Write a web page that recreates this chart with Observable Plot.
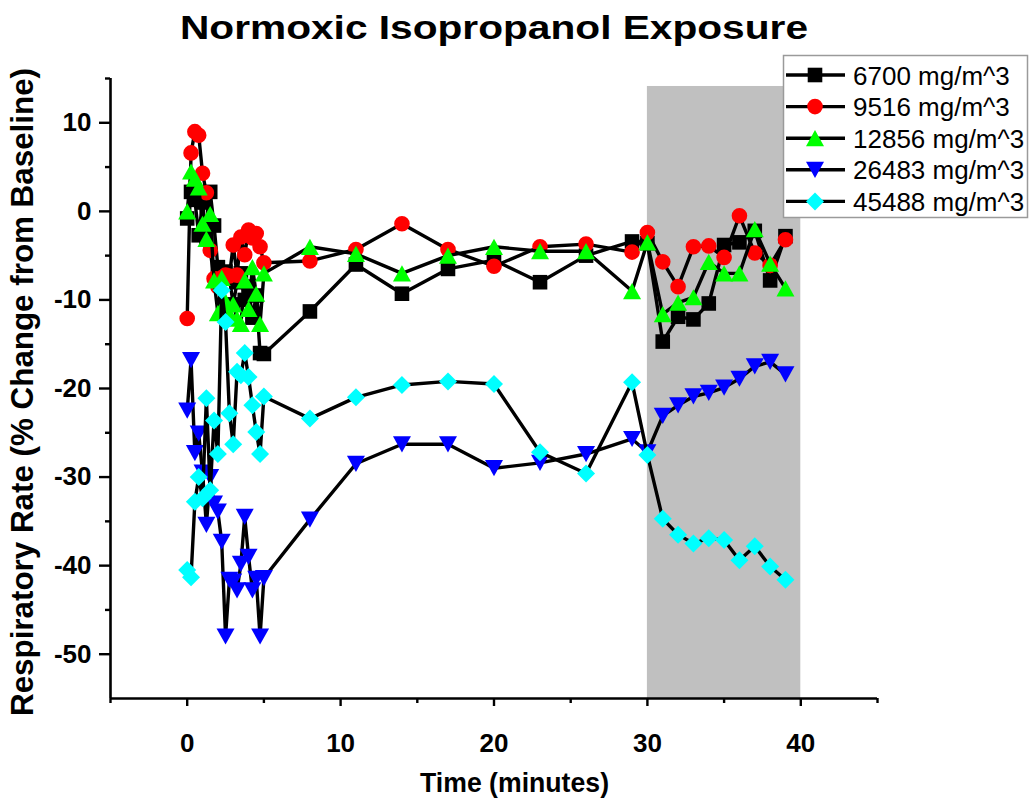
<!DOCTYPE html>
<html>
<head>
<meta charset="utf-8">
<script src="https://cdn.jsdelivr.net/npm/d3@7"></script>
<script src="https://cdn.jsdelivr.net/npm/@observablehq/plot@0.6"></script>
<style>
  html, body { margin: 0; padding: 0; background: #fff; }
  #wrap { position: relative; width: 1029px; height: 804px; }
  #overlay { position: absolute; left: 0; top: 0; pointer-events: none; }
  svg text { font-family: "Liberation Sans", Arial, sans-serif; }
</style>
</head>
<body>
<div id="wrap"><div id="chart"></div></div>
<script>
// ---- Data ----
const chartTitle = "Normoxic Isopropanol Exposure";
const xLabel = "Time (minutes)";
const yLabel = "Respiratory Rate (% Change from Baseline)";

const times = [0, 0.25, 0.5, 0.75, 1, 1.25, 1.5, 1.75, 2, 2.25, 2.5, 2.75, 3, 3.25, 3.5, 3.75, 4, 4.25, 4.5, 4.75, 5,
               8, 11, 14, 17, 20, 23, 26, 29, 30, 31, 32, 33, 34, 35, 36, 37, 38, 39];

const seriesNames = ["6700 mg/m^3", "9516 mg/m^3", "12856 mg/m^3", "26483 mg/m^3", "45488 mg/m^3"];
const seriesColors = ["#000000", "#ff0000", "#00ff00", "#0000ff", "#00ffff"];

const v6700 = [-0.8, 2.2, 1.3, -2.7, 1.0, -3.0, 2.2, -1.6, -6.3, -7.0, -6.8, -7.5, -10.5, -8.0, -7.0, -10.0, -8.5, -12.0, -9.5, -16.0, -16.1,
               -11.3, -6.0, -9.3, -6.5, -5.5, -8.0, -5.0, -3.4, -3.6, -14.7, -11.9, -12.2, -10.4, -3.8, -3.5, -2.2, -7.8, -2.8];
const v9516 = [-12.1, 6.6, 9.0, 8.6, 4.3, 2.1, -4.4, -7.6, -8.5, -7.5, -7.2, -7.3, -3.8, -7.2, -2.9, -4.9, -2.1, -3.0, -2.5, -4.0, -5.8,
               -5.6, -4.3, -1.4, -4.3, -6.2, -4.0, -3.7, -4.6, -2.4, -5.7, -8.5, -4.0, -3.9, -5.2, -0.5, -4.7, -6.1, -3.2];
const v12856 = [0.0, 4.5, 3.7, 2.7, -1.4, -3.1, -0.3, -7.8, -11.5, -7.5, -10.2, -11.6, -10.5, -12.1, -12.7, -7.8, -11.0, -6.3, -9.3, -12.7, -7.0,
                -4.0, -4.8, -7.0, -5.0, -4.0, -4.5, -4.5, -9.0, -3.5, -11.6, -10.3, -9.7, -5.7, -7.0, -7.0, -2.0, -5.9, -8.7];
const v26483 = [-22.5, -16.8, -27.3, -25.1, -29.5, -35.4, -30.0, -33.0, -33.9, -37.3, -48.0, -41.6, -41.8, -42.8, -39.8, -34.5, -39.0, -42.8, -41.5, -48.0, -41.4,
                -34.8, -28.5, -26.3, -26.3, -29.0, -28.4, -27.4, -25.7, -27.2, -23.1, -21.9, -20.9, -20.5, -19.9, -18.9, -17.5, -17.0, -18.4];
const v45488 = [-40.5, -41.3, -32.8, -30.0, -32.4, -21.1, -31.5, -23.6, -27.4, -8.9, -12.5, -22.8, -26.3, -18.1, -18.5, -16.0, -18.7, -21.9, -24.9, -27.4, -20.9,
                -23.4, -21.0, -19.6, -19.2, -19.5, -27.2, -29.6, -19.3, -27.5, -34.7, -36.5, -37.5, -36.9, -37.1, -39.4, -37.8, -40.1, -41.6];

const xMajorTicks = [0, 10, 20, 30, 40];
const xMinorTicks = [-5, 5, 15, 25, 35, 45];
const yMajorTicks = [-50, -40, -30, -20, -10, 0, 10];
const yMinorTicks = [-45, -35, -25, -15, -5, 5, 15];
const xDomain = [-5, 45];
const yDomain = [-55, 15];
const exposureWindow = [30, 40];
const exposureTop = 14.1;

// ---- Symbols ----
const symSquare = { draw(c, size) { const r = Math.sqrt(size / Math.PI); c.rect(-r, -r, 2 * r, 2 * r); } };
const symCircle = { draw(c, size) { const r = Math.sqrt(size / Math.PI); c.moveTo(r, 0); c.arc(0, 0, r, 0, 2 * Math.PI); } };
const symTriUp = { draw(c, size) { const r = Math.sqrt(size / Math.PI); c.moveTo(0, -0.9 * r); c.lineTo(r, 0.9 * r); c.lineTo(-r, 0.9 * r); c.closePath(); } };
const symTriDown = { draw(c, size) { const r = Math.sqrt(size / Math.PI); c.moveTo(0, 0.9 * r); c.lineTo(r, -0.9 * r); c.lineTo(-r, -0.9 * r); c.closePath(); } };
const symDiamond = { draw(c, size) { const r = Math.sqrt(size / Math.PI); c.moveTo(0, -r); c.lineTo(r, 0); c.lineTo(0, r); c.lineTo(-r, 0); c.closePath(); } };
const seriesSymbols = [symSquare, symCircle, symTriUp, symTriDown, symDiamond];
const seriesR = [7.3, 7.8, 9, 9, 9];
const seriesValues = [v6700, v9516, v12856, v26483, v45488];

const series = seriesNames.map((name, k) => ({
  name, color: seriesColors[k], symbol: seriesSymbols[k], r: seriesR[k],
  data: times.map((t, i) => ({ t, v: seriesValues[k][i], name }))
}));

// ---- Marks ----
const marks = [
  Plot.rect([{ x1: exposureWindow[0], x2: exposureWindow[1], y1: yDomain[0], y2: exposureTop }],
    { x1: "x1", x2: "x2", y1: "y1", y2: "y2", fill: "#c0c0c0" })
];
for (const s of series) {
  marks.push(Plot.line(s.data, { x: "t", y: "v", stroke: "#000", strokeWidth: 3.4, strokeLinejoin: "round" }));
  marks.push(Plot.dot(s.data, { x: "t", y: "v", symbol: () => s.symbol, r: s.r, fill: s.color, stroke: "none" }));
}
marks.push(Plot.ruleX([xDomain[0]], { stroke: "#000", strokeWidth: 2.6 }));
marks.push(Plot.ruleY([yDomain[0]], { stroke: "#000", strokeWidth: 2.6 }));

const hasAxisMarks = typeof Plot.axisX === "function";
if (hasAxisMarks) {
  marks.push(Plot.axisX({ ticks: xMajorTicks, tickSize: 8, tickPadding: 27, strokeWidth: 2.4, label: null, fontSize: 26, fontWeight: "bold", tickFormat: d => String(d) }));
  marks.push(Plot.axisX({ ticks: xMinorTicks, tickSize: 5, strokeWidth: 2.4, label: null, tickFormat: () => "" }));
  marks.push(Plot.axisY({ ticks: yMajorTicks, tickSize: 11, tickPadding: 8, strokeWidth: 2.4, label: null, fontSize: 26, fontWeight: "bold", tickFormat: d => String(d) }));
  marks.push(Plot.axisY({ ticks: yMinorTicks, tickSize: 5, strokeWidth: 2.4, label: null, tickFormat: () => "" }));
}

const plot = Plot.plot({
  width: 1029,
  height: 804,
  marginLeft: 110,
  marginRight: 152,
  marginTop: 78,
  marginBottom: 106,
  style: { fontFamily: "Liberation Sans, Arial, sans-serif", color: "#000", background: "#fff" },
  x: { domain: xDomain, ...(hasAxisMarks ? {} : { ticks: xMajorTicks, tickSize: 8, label: null }) },
  y: { domain: yDomain, ...(hasAxisMarks ? {} : { ticks: yMajorTicks, tickSize: 11, label: null }) },
  marks
});
document.getElementById("chart").appendChild(plot);

// thicken axis tick strokes
d3.select(plot).selectAll("g[aria-label$='tick']").attr("stroke-width", 2.4).attr("stroke", "#000")
  .selectAll("path").attr("stroke-width", 2.4);

// ---- Overlay: title, axis labels, legend ----
const ov = d3.select("#wrap").append("svg").attr("id", "overlay").attr("width", 1029).attr("height", 804);

ov.append("text").text(chartTitle)
  .attr("x", 180).attr("y", 39)
  .attr("font-size", 33).attr("font-weight", "bold")
  .attr("textLength", 628).attr("lengthAdjust", "spacingAndGlyphs");

ov.append("text").text(yLabel)
  .attr("transform", "translate(33,716) rotate(-90)")
  .attr("x", 0).attr("y", 0)
  .attr("font-size", 31).attr("font-weight", "bold")
  .attr("textLength", 648).attr("lengthAdjust", "spacingAndGlyphs");

ov.append("text").text(xLabel)
  .attr("x", 420).attr("y", 792)
  .attr("font-size", 28).attr("font-weight", "bold")
  .attr("textLength", 189).attr("lengthAdjust", "spacingAndGlyphs");

const lg = ov.append("g");
lg.append("rect").attr("x", 783.5).attr("y", 55.5).attr("width", 244).attr("height", 162)
  .attr("fill", "#fff").attr("stroke", "#9a9a9a").attr("stroke-width", 1.5);
series.forEach((s, i) => {
  const cy = 75 + i * 31.6;
  lg.append("line").attr("x1", 786).attr("x2", 845).attr("y1", cy).attr("y2", cy)
    .attr("stroke", "#000").attr("stroke-width", 3.4);
  lg.append("path").attr("transform", `translate(815,${cy})`)
    .attr("d", d3.symbol(s.symbol, Math.PI * s.r * s.r)()).attr("fill", s.color);
  lg.append("text").text(s.name).attr("x", 853).attr("y", cy + 9.5).attr("font-size", 26);
});
</script>
</body>
</html>
